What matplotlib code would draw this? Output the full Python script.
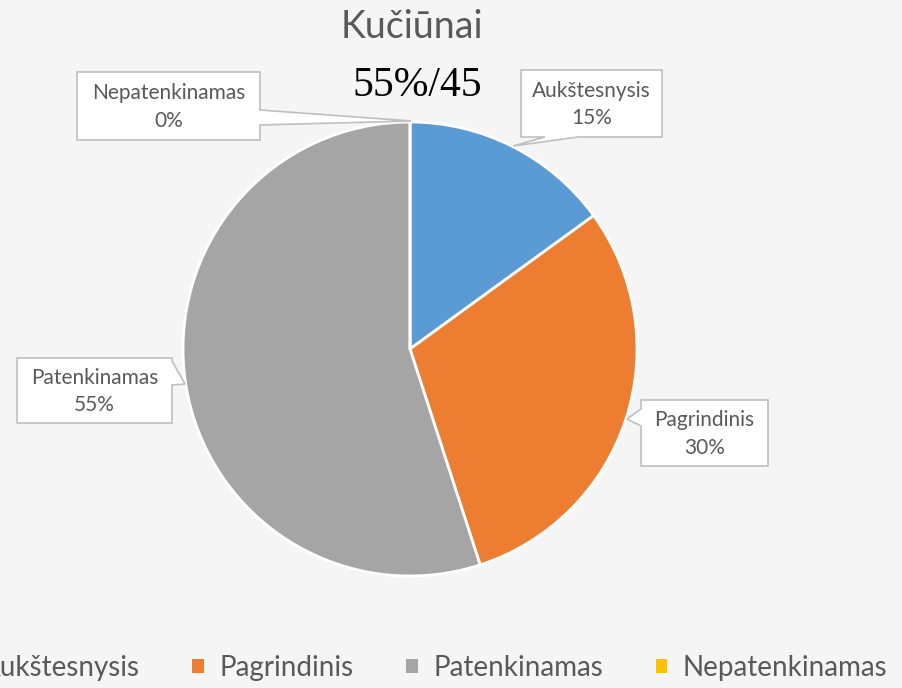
import numpy as np
import matplotlib.pyplot as plt
from matplotlib.patches import Polygon, Patch

labels = ['Aukštesnysis', 'Pagrindinis', 'Patenkinamas', 'Nepatenkinamas']
values = [15, 30, 55, 0]
colors = ['#5B9BD5', '#ED7D31', '#A5A5A5', '#FFC000']
title = 'Kučiūnai'
subtitle = '55%/45'

# callout boxes in pixel coords: rect (x0, y0, x1, y1), pointer side, base, tip
callouts = {
    'Aukštesnysis': ((521, 70, 662, 137), 'bottom', (545, 578), (513, 146)),
    'Pagrindinis': ((641, 400, 768, 466), 'left', (409, 426), (627, 419)),
    'Patenkinamas': ((17, 358, 172, 423), 'right', (361, 385), (185, 384)),
    'Nepatenkinamas': ((77, 72, 260, 140), 'right', (110, 125), (411, 121)),
}

W, H = 902, 688
txt = '#595959'
plt.rcParams['font.family'] = ['Lato', 'DejaVu Sans']

fig = plt.figure(figsize=(W / 100, H / 100), dpi=100, facecolor='#f5f5f5')
ax = fig.add_axes([0, 0, 1, 1])
ax.set_facecolor('#f5f5f5')

wedges, _ = ax.pie(values, colors=colors, center=(410, 349), radius=227,
                   startangle=-90, counterclock=True,
                   wedgeprops=dict(edgecolor='white', linewidth=2))
ax.set_xlim(0, W)
ax.set_ylim(H, 0)
ax.set_aspect('equal')
ax.axis('off')


def callout(rect, side, base, tip):
    x0, y0, x1, y1 = rect
    a, b = base
    if side == 'right':
        pts = [(x0, y0), (x1, y0), (x1, a), tip, (x1, b), (x1, y1), (x0, y1)]
    elif side == 'left':
        pts = [(x0, y0), (x1, y0), (x1, y1), (x0, y1), (x0, b), tip, (x0, a)]
    else:
        pts = [(x0, y0), (x1, y0), (x1, y1), (b, y1), tip, (a, y1), (x0, y1)]
    return Polygon(pts, closed=True, fc='white', ec='#bfbfbf', lw=1.2, zorder=5)


for lab, v in zip(labels, values):
    rect, side, base, tip = callouts[lab]
    ax.add_patch(callout(rect, side, base, tip))
    cx = (rect[0] + rect[2]) / 2
    cy = (rect[1] + rect[3]) / 2
    ax.text(cx, cy + 1, f'{lab}\n{v}%', ha='center', va='center', fontsize=15,
            color=txt, linespacing=1.45, zorder=6)

ax.text(412, 27, title, ha='center', va='center', fontsize=27, color=txt)
ax.text(417, 86, subtitle, ha='center', va='center', fontsize=30,
        family='Liberation Serif', color='black')

handles = [Patch(facecolor=c, edgecolor='none') for c in colors]
fig.legend(handles, labels, loc='center', bbox_to_anchor=(421 / W, 1 - 668 / H),
           ncol=4, frameon=False, handlelength=0.42, handleheight=0.42,
           handletextpad=0.55, columnspacing=1.9, fontsize=20, labelcolor=txt)

fig.savefig('out.png', dpi=100, facecolor=fig.get_facecolor())
